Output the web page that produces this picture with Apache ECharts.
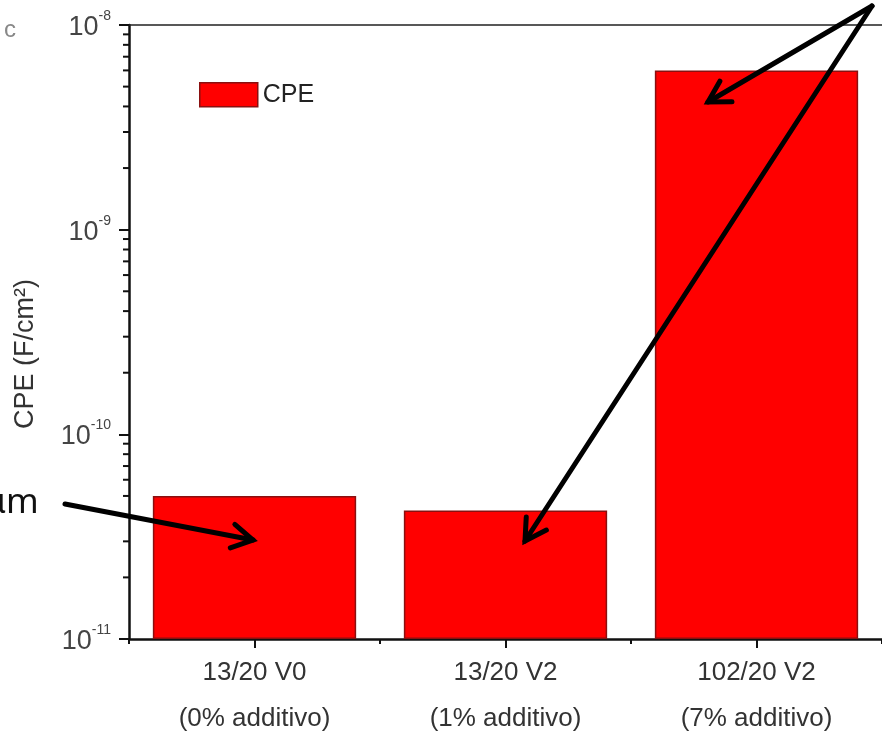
<!DOCTYPE html>
<html>
<head>
<meta charset="utf-8">
<script src="https://cdn.jsdelivr.net/npm/echarts@6/dist/echarts.min.js"></script>
<style>
  html, body { margin: 0; padding: 0; background: #fff; }
  #chart { width: 882px; height: 732px; }
</style>
</head>
<body>
<div id="chart"></div>
<script>
// ---- data ----
const sampleNames = ['13/20 V0', '13/20 V2', '102/20 V2'];
const additiveLabels = ['(0% additivo)', '(1% additivo)', '(7% additivo)'];
const cpeValues = [5.0e-11, 4.25e-11, 6.0e-9];
const seriesName = 'CPE';
const yAxisTitle = 'CPE (F/cm\u00B2)';
const yMin = 1e-11;
const yMax = 1e-8;
const minorTickValues = [
  2e-11, 3e-11, 4e-11, 5e-11, 6e-11, 7e-11, 8e-11, 9e-11,
  2e-10, 3e-10, 4e-10, 5e-10, 6e-10, 7e-10, 8e-10, 9e-10,
  2e-9, 3e-9, 4e-9, 5e-9, 6e-9, 7e-9, 8e-9, 9e-9
];

const chart = echarts.init(document.getElementById('chart'), null, { renderer: 'canvas' });
const FONT = 'Liberation Sans, Arial, sans-serif';
const BAR_FILL = '#ff0000';
const BAR_BORDER = '#8a1010';

const option = {
  backgroundColor: '#ffffff',
  animation: false,
  grid: { left: 129, top: 25, bottom: 93, right: -6, containLabel: false },
  legend: {
    data: [{ name: seriesName, itemStyle: { color: BAR_FILL, borderColor: BAR_BORDER, borderWidth: 1.5 } }],
    left: 194, top: 77,
    icon: 'rect',
    itemWidth: 58, itemHeight: 24, itemGap: 6,
    textStyle: { fontFamily: FONT, fontSize: 25, color: '#222' }
  },
  xAxis: [
    {
      type: 'category',
      data: sampleNames,
      position: 'bottom',
      axisLine: { lineStyle: { color: '#111', width: 2.5 } },
      axisTick: { show: true, alignWithLabel: true, length: 9, inside: false, lineStyle: { color: '#111', width: 2 } },
      axisLabel: {
        margin: 11,
        interval: 0,
        formatter: (v, i) => '{a|' + v + '}\n{b|' + additiveLabels[i] + '}',
        rich: {
          a: { fontFamily: FONT, fontSize: 26, color: '#333', lineHeight: 46 },
          b: { fontFamily: FONT, fontSize: 26, color: '#333', lineHeight: 46 }
        }
      },
      splitLine: { show: false }
    },
    {
      type: 'category',
      data: sampleNames,
      position: 'bottom',
      axisLine: { show: false },
      axisTick: { show: true, alignWithLabel: false, length: 5, lineStyle: { color: '#111', width: 2 } },
      axisLabel: { show: false },
      splitLine: { show: false }
    },
    {
      type: 'category',
      data: sampleNames,
      position: 'top',
      axisLine: { show: true, lineStyle: { color: '#222', width: 1.5 } },
      axisTick: { show: false },
      axisLabel: { show: false },
      splitLine: { show: false }
    }
  ],
  yAxis: {
    type: 'log',
    logBase: 10,
    min: yMin,
    max: yMax,
    startValue: yMin,
    name: yAxisTitle,
    nameLocation: 'middle',
    nameGap: 90,
    nameRotate: 90,
    nameTextStyle: { fontFamily: FONT, fontSize: 27, color: '#333', padding: [0, 44, 0, 0] },
    axisLine: { show: true, lineStyle: { color: '#111', width: 2.5 } },
    axisTick: { show: true, length: 10, inside: false, lineStyle: { color: '#111', width: 2 } },
    splitLine: { show: false },
    axisLabel: {
      margin: 18,
      formatter: (v) => {
        const e = Math.round(Math.log10(v));
        return '{b|10}{s|' + e + '}';
      },
      rich: {
        b: { fontFamily: FONT, fontSize: 27, color: '#444', lineHeight: 32, verticalAlign: 'bottom' },
        s: { fontFamily: FONT, fontSize: 14, color: '#444', lineHeight: 14, verticalAlign: 'top' }
      }
    }
  },
  series: [
    {
      name: seriesName,
      type: 'bar',
      data: cpeValues,
      barCategoryGap: '19%',
      itemStyle: { color: BAR_FILL, borderColor: BAR_BORDER, borderWidth: 1.5 }
    },
    {
      name: 'minorTicks',
      type: 'custom',
      silent: true,
      data: minorTickValues.map(v => [0, v]),
      encode: { x: 0, y: 1 },
      renderItem: (params, api) => {
        const p = api.coord([0, api.value(1)]);
        const x0 = params.coordSys.x;
        return {
          type: 'line',
          shape: { x1: x0 - 6, y1: p[1], x2: x0, y2: p[1] },
          style: { stroke: '#111', lineWidth: 2 }
        };
      }
    }
  ],
  graphic: []
};

chart.setOption(option);

// ---- annotations (arrows & cropped texts from the slide) ----
function arrow(x1, y1, x2, y2) {
  const ang = Math.atan2(y2 - y1, x2 - x1);
  const L = 24, a = Math.PI / 6;
  const w1 = [x2 - L * Math.cos(ang - a), y2 - L * Math.sin(ang - a)];
  const w2 = [x2 - L * Math.cos(ang + a), y2 - L * Math.sin(ang + a)];
  return [
    { type: 'line', z: 100, shape: { x1: x1, y1: y1, x2: x2, y2: y2 },
      style: { stroke: '#000', lineWidth: 5, lineCap: 'round' } },
    { type: 'polyline', z: 100, shape: { points: [w1, [x2, y2], w2] },
      style: { stroke: '#000', lineWidth: 5, lineJoin: 'miter', lineCap: 'round', fill: null } }
  ];
}

const g = [];
g.push({ type: 'text', left: 4, top: 18, z: 100,
  style: { text: 'c', font: '24px ' + FONT, fill: '#888' } });
g.push({ type: 'text', x: -16, y: 486, z: 100,
  style: { text: '\u03BCm', font: '35px "Noto Sans", "Open Sans", sans-serif', fill: '#111' } });
g.push(...arrow(65, 504, 253, 540));
g.push(...arrow(872, 6, 708, 102));
g.push(...arrow(872, 6, 525, 541));

chart.setOption({ graphic: g });
</script>
</body>
</html>
